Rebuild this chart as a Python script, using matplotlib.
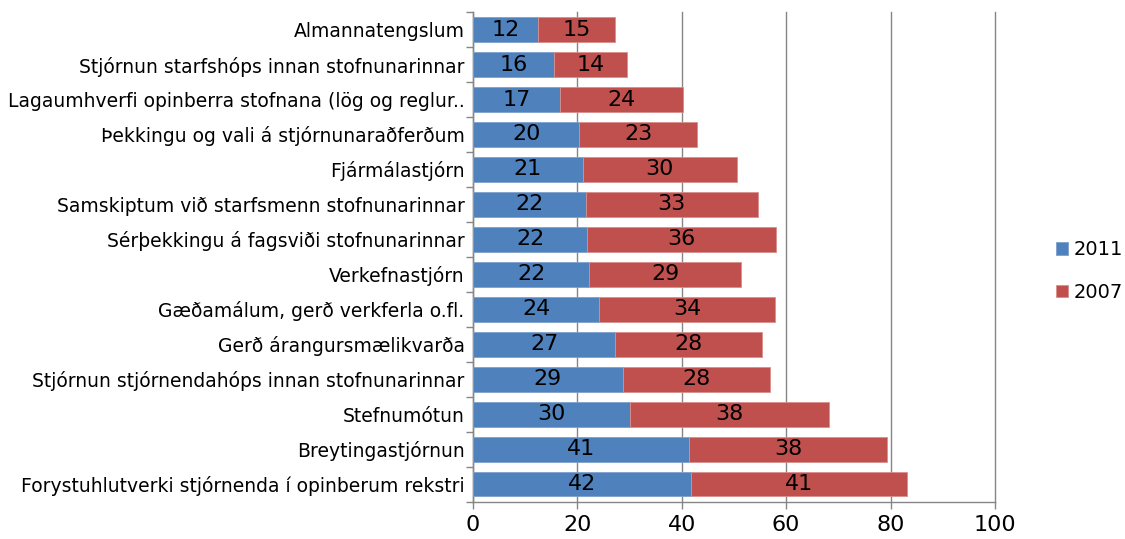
import matplotlib
matplotlib.use("Agg")
from matplotlib import pyplot as plt
import numpy as np

# flokkar, ofan frá og niður
flokkar = [
    "Almannatengslum",
    "Stjórnun starfshóps innan stofnunarinnar",
    "Lagaumhverfi opinberra stofnana (lög og reglur..",
    "Þekkingu og vali á stjórnunaraðferðum",
    "Fjármálastjórn",
    "Samskiptum við starfsmenn stofnunarinnar",
    "Sérþekkingu á fagsviði stofnunarinnar",
    "Verkefnastjórn",
    "Gæðamálum, gerð verkferla o.fl.",
    "Gerð árangursmælikvarða",
    "Stjórnun stjórnendahóps innan stofnunarinnar",
    "Stefnumótun",
    "Breytingastjórnun",
    "Forystuhlutverki stjórnenda í opinberum rekstri",
]
gildi_2011 = [12.4, 15.6, 16.6, 20.4, 21.0, 21.6, 21.9, 22.3, 24.2, 27.3, 28.7, 30.0, 41.4, 41.8]
gildi_2007 = [14.9, 14.0, 23.6, 22.6, 29.6, 33.0, 36.2, 29.0, 33.6, 28.0, 28.2, 38.2, 37.9, 41.3]
ar = ["2011", "2007"]
x_ticks = [0, 20, 40, 60, 80, 100]

blar = "#4F81BD"
raudur = "#C0504D"
grar = "#868686"


def graficar():
    fig = plt.figure(figsize=(11.25, 5.39), dpi=100)
    ax = fig.add_axes([0.4204, 0.0695, 0.464, 0.908])

    y = np.arange(len(flokkar))
    b1 = ax.barh(y, gildi_2011, height=0.71, color=blar, edgecolor="#7FA0CF",
                 linewidth=0.6, label=ar[0], zorder=3)
    b2 = ax.barh(y, gildi_2007, left=gildi_2011, height=0.71, color=raudur,
                 edgecolor="#D98F8D", linewidth=0.6, label=ar[1], zorder=3)
    ax.bar_label(b1, labels=["%.0f" % v for v in gildi_2011], label_type="center",
                 fontsize=16, color="black", zorder=4)
    ax.bar_label(b2, labels=["%.0f" % v for v in gildi_2007], label_type="center",
                 fontsize=16, color="black", zorder=4)

    ax.set_ylim(len(flokkar) - 0.5, -0.5)
    ax.set_xlim(0, 100)
    ax.set_xticks(x_ticks)
    ax.set_xticklabels([str(t) for t in x_ticks], fontsize=16)
    ax.set_yticks(y)
    ax.set_yticklabels(flokkar, fontsize=13.5)
    ax.tick_params(axis="y", length=0, pad=6)
    ax.set_yticks(np.arange(len(flokkar) + 1) - 0.5, minor=True)
    ax.tick_params(axis="y", which="minor", length=5, color=grar, width=1)
    ax.tick_params(axis="x", length=5, color=grar, width=1, pad=5)

    ax.grid(axis="x", color=grar, linewidth=1, zorder=0)
    for lina in ax.get_xgridlines():
        lina.set_clip_on(False)
    for s in ["top", "right"]:
        ax.spines[s].set_visible(False)
    ax.spines["left"].set_color(grar)
    ax.spines["bottom"].set_color(grar)
    ax.spines["left"].set_linewidth(1)
    ax.spines["bottom"].set_linewidth(1)

    fig.legend(handles=[b1, b2], loc="center left", bbox_to_anchor=(0.939, 0.497),
               frameon=False, fontsize=14, handlelength=0.6, handleheight=0.6,
               handletextpad=0.3, labelspacing=1.2, borderpad=0, borderaxespad=0)

    fig.savefig("out.png", dpi=100)


if __name__ == "__main__":
    graficar()
